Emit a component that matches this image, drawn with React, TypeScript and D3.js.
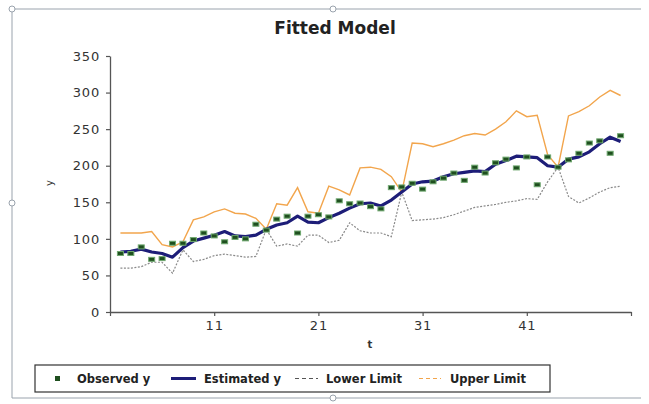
import React, { useEffect, useRef } from "react";
import * as d3 from "d3";

// time index of every observation
const tValues = [2, 3, 4, 5, 6, 7, 8, 9, 10, 11, 12, 13, 14, 15, 16, 17, 18, 19, 20, 21, 22, 23, 24, 25, 26,
  27, 28, 29, 30, 31, 32, 33, 34, 35, 36, 37, 38, 39, 40, 41, 42, 43, 44, 45, 46, 47, 48, 49, 50];

const observedY = [80, 80, 89, 72, 73, 94, 94, 99, 108, 104, 96, 102, 100, 120, 112, 127, 131, 108, 131, 133,
  130, 152, 148, 149, 144, 141, 170, 171, 176, 168, 178, 183, 190, 180, 198, 190, 204, 209, 197, 212,
  174, 212, 198, 208, 217, 231, 234, 217, 241];

const estimatedY = [82, 83, 86, 82, 80, 75, 88, 97, 101, 105, 110, 104, 103, 105, 113, 119, 122, 131, 123, 122,
  129, 135, 142, 148, 149, 145, 153, 164, 175, 178, 179, 185, 189, 191, 193, 192, 202, 207, 213, 212,
  211, 200, 198, 209, 212, 219, 230, 239, 233];

const lowerLimit = [60, 60, 62, 68, 68, 53, 85, 69, 72, 77, 79, 77, 75, 76, 113, 90, 93, 90, 105, 105,
  95, 98, 122, 111, 108, 108, 103, 164, 125, 126, 127, 129, 133, 138, 143, 145, 147, 150, 152, 155,
  154, 178, 198, 158, 149, 156, 164, 170, 172];

const upperLimit = [108, 108, 108, 110, 92, 89, 96, 126, 130, 137, 141, 135, 134, 128, 113, 148, 146, 170, 137, 135,
  172, 167, 160, 197, 198, 195, 185, 164, 231, 230, 226, 230, 235, 241, 244, 242, 250, 260, 275, 267,
  269, 215, 198, 268, 274, 282, 294, 303, 296];

const yTicks = [0, 50, 100, 150, 200, 250, 300, 350];
const xTickValues = [1, 11, 21, 31, 41, 51];
const xTickLabels = [11, 21, 31, 41];

const FONT = "DejaVu Sans, Arial, sans-serif";

export default function App() {
  const ref = useRef<SVGSVGElement>(null);

  useEffect(() => {
    const svg = d3.select(ref.current);
    svg.selectAll("*").remove();

    const x = d3.scaleLinear().domain([1, 51]).range([110, 631]);
    const y = d3.scaleLinear().domain([0, 350]).range([312, 56]);

    // selection frame round the chart
    const frameColor = "#9aa3ad";
    svg.append("path")
      .attr("d", "M641,9 H12 V398 H641")
      .attr("fill", "none")
      .attr("stroke", frameColor)
      .attr("stroke-width", 1);
    [[12, 9], [333, 9], [12, 203], [333, 398]].forEach(([cx, cy]) => {
      svg.append("circle")
        .attr("cx", cx).attr("cy", cy).attr("r", 3)
        .attr("fill", "#fff").attr("stroke", frameColor);
    });

    // title
    svg.append("text")
      .attr("x", 335).attr("y", 34)
      .attr("text-anchor", "middle")
      .style("font-family", FONT)
      .style("font-size", "17px")
      .style("font-weight", "bold")
      .style("fill", "#222")
      .text("Fitted Model");

    // y axis
    const yAxis = svg.append("g")
      .attr("transform", "translate(110,0)")
      .call(d3.axisLeft(y).tickValues(yTicks).tickSize(4).tickSizeOuter(0).tickPadding(6));
    // x axis
    const xAxis = svg.append("g")
      .attr("transform", "translate(0,312)")
      .call(d3.axisBottom(x).tickValues(xTickValues).tickSize(4).tickSizeOuter(0).tickPadding(5)
        .tickFormat(d => (xTickLabels.includes(+d) ? String(d) : "")));

    [yAxis, xAxis].forEach(g => {
      g.select(".domain").attr("stroke", "#555").attr("stroke-width", 1.3);
      g.selectAll(".tick line").attr("stroke", "#555").attr("stroke-width", 1.2);
      g.selectAll("text")
        .style("font-family", FONT)
        .style("font-size", "13px")
        .style("letter-spacing", "0.8px")
        .style("fill", "#333");
    });

    // axis titles
    svg.append("text")
      .attr("transform", "translate(53,183) rotate(-90)")
      .attr("text-anchor", "middle")
      .style("font-family", FONT)
      .style("font-size", "10px")
      .style("fill", "#333")
      .text("y");
    svg.append("text")
      .attr("x", 370).attr("y", 348)
      .attr("text-anchor", "middle")
      .style("font-family", FONT)
      .style("font-size", "10px")
      .style("font-weight", "bold")
      .style("fill", "#333")
      .text("t");

    const line = d3.line<number>()
      .x((_, i) => x(tValues[i]))
      .y(d => y(d));

    // limits first, estimate on top
    svg.append("path")
      .datum(lowerLimit)
      .attr("d", line)
      .attr("fill", "none")
      .attr("stroke", "#8a8a8a")
      .attr("stroke-width", 1.2)
      .attr("stroke-dasharray", "2,1.5");

    svg.append("path")
      .datum(upperLimit)
      .attr("d", line)
      .attr("fill", "none")
      .attr("stroke", "#f2a54c")
      .attr("stroke-width", 1.4);

    svg.append("path")
      .datum(estimatedY)
      .attr("d", line)
      .attr("fill", "none")
      .attr("stroke", "#1d1d78")
      .attr("stroke-width", 3.2)
      .attr("stroke-linejoin", "round");

    // observed points
    svg.append("g")
      .selectAll("rect")
      .data(observedY)
      .join("rect")
      .attr("x", (_, i) => x(tValues[i]) - 3)
      .attr("y", d => y(d) - 2)
      .attr("width", 6)
      .attr("height", 4)
      .attr("fill", "#1f4f1f")
      .attr("stroke", "#6fa86f")
      .attr("stroke-width", 1);

    // legend
    const legend = svg.append("g");
    legend.append("rect")
      .attr("x", 35).attr("y", 365)
      .attr("width", 515).attr("height", 27)
      .attr("fill", "#fff")
      .attr("stroke", "#333")
      .attr("stroke-width", 1.2);

    const legendY = 378.5;
    legend.append("rect")
      .attr("x", 55).attr("y", legendY - 2.5)
      .attr("width", 5).attr("height", 5)
      .attr("fill", "#1f4f1f");
    legend.append("line")
      .attr("x1", 171).attr("x2", 196).attr("y1", legendY).attr("y2", legendY)
      .attr("stroke", "#1d1d78").attr("stroke-width", 3);
    legend.append("line")
      .attr("x1", 295).attr("x2", 318).attr("y1", legendY).attr("y2", legendY)
      .attr("stroke", "#555").attr("stroke-width", 1.2).attr("stroke-dasharray", "4,3");
    legend.append("line")
      .attr("x1", 419).attr("x2", 441).attr("y1", legendY).attr("y2", legendY)
      .attr("stroke", "#f2a54c").attr("stroke-width", 1.2).attr("stroke-dasharray", "4,3");

    const legendTexts: [number, string][] = [
      [77, "Observed y"], [204, "Estimated y"], [326, "Lower Limit"], [450, "Upper Limit"],
    ];
    legend.selectAll("text.leg")
      .data(legendTexts)
      .join("text")
      .attr("class", "leg")
      .attr("x", d => d[0])
      .attr("y", legendY + 4)
      .style("font-family", FONT)
      .style("font-size", "11.5px")
      .style("font-weight", "bold")
      .style("fill", "#222")
      .text(d => d[1]);
  }, []);

  return (
    <svg
      ref={ref}
      width={649}
      height={404}
      style={{ position: "absolute", left: 0, top: 0, background: "#fff" }}
    />
  );
}
